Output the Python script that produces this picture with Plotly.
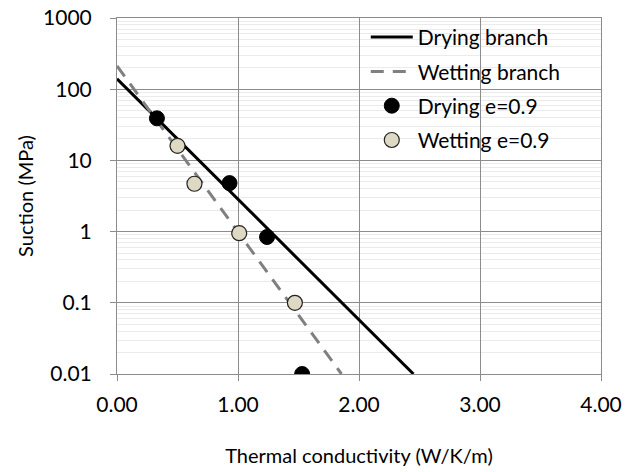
import plotly.graph_objects as go

# Measured points
drying_x = [0.33, 0.93, 1.24, 1.53]
drying_y = [39, 4.8, 0.84, 0.01]
wetting_x = [0.50, 0.64, 1.01, 1.47]
wetting_y = [16, 4.7, 0.95, 0.1]

# Fitted branches (end points)
drying_branch_x = [0.0, 2.45]
drying_branch_y = [140, 0.01]
wetting_branch_x = [0.0, 1.855]
wetting_branch_y = [212, 0.01]

x_ticks = [0, 1, 2, 3, 4]
x_tick_labels = ["0.00", "1.00", "2.00", "3.00", "4.00"]
y_ticks = [0.01, 0.1, 1, 10, 100, 1000]
y_tick_labels = ["0.01", "0.1", "1", "10", "100", "1000"]

FONT = "Lato"
TXT = "#000000"

fig = go.Figure()
fig.add_trace(go.Scatter(x=drying_branch_x, y=drying_branch_y, mode="lines",
                         name="Drying branch", legendgroup="a",
                         line=dict(color="black", width=3)))
fig.add_trace(go.Scatter(x=wetting_branch_x, y=wetting_branch_y, mode="lines",
                         name="Wetting branch", legendgroup="b",
                         line=dict(color="#808080", width=3, dash="13px,9px")))
fig.add_trace(go.Scatter(x=drying_x, y=drying_y, mode="markers",
                         name="Drying e=0.9", legendgroup="c",
                         marker=dict(color="black", size=15,
                                     line=dict(color="black", width=1))))
fig.add_trace(go.Scatter(x=wetting_x, y=wetting_y, mode="markers",
                         name="Wetting e=0.9", legendgroup="d",
                         marker=dict(color="#DDD9C3", size=15,
                                     line=dict(color="#222222", width=1.2))))

fig.update_layout(
    width=639, height=472,
    margin=dict(l=117, r=38, t=18, b=98),
    paper_bgcolor="white", plot_bgcolor="white",
    font=dict(family=FONT, size=21, color=TXT),
    showlegend=True,
    legend=dict(x=0.514, y=1.003, xanchor="left", yanchor="top",
                bgcolor="rgba(0,0,0,0)", font=dict(family=FONT, size=21, color=TXT),
                tracegroupgap=4, itemwidth=42,
                traceorder="grouped"),
    shapes=[dict(type="rect", xref="paper", yref="paper",
                 x0=0.461, x1=1.0, y0=0.601, y1=1.0,
                 fillcolor="white", line=dict(width=0), layer="between")],
)

fig.update_xaxes(range=[0, 4], tickvals=x_ticks, ticktext=x_tick_labels,
                 automargin=False,
                 showgrid=True, gridcolor="#8C8C8C", gridwidth=1,
                 showline=True, linecolor="#8C8C8C", linewidth=1, mirror=True,
                 ticks="outside", ticklen=6, tickcolor="#8C8C8C",
                 zeroline=False, ticklabelstandoff=6,
                 tickfont=dict(family=FONT, size=21, color=TXT),
                 title=dict(text="Thermal conductivity (W/K/m)", standoff=33,
                            font=dict(family=FONT, size=20, color=TXT)))
fig.update_yaxes(type="log", range=[-2, 3], tickvals=y_ticks, ticktext=y_tick_labels,
                 automargin=False,
                 showgrid=True, gridcolor="#8C8C8C", gridwidth=1,
                 showline=True, linecolor="#8C8C8C", linewidth=1, mirror=True,
                 ticks="outside", ticklen=6, tickcolor="#8C8C8C",
                 zeroline=False, ticklabelstandoff=14,
                 minor=dict(showgrid=True, gridcolor="#EBEBEB", gridwidth=1,
                            dtick="D1", ticks=""),
                 tickfont=dict(family=FONT, size=21, color=TXT),
                 title=dict(text="Suction (MPa)", standoff=4,
                            font=dict(family=FONT, size=20, color=TXT)))

fig.write_html("out.html")
